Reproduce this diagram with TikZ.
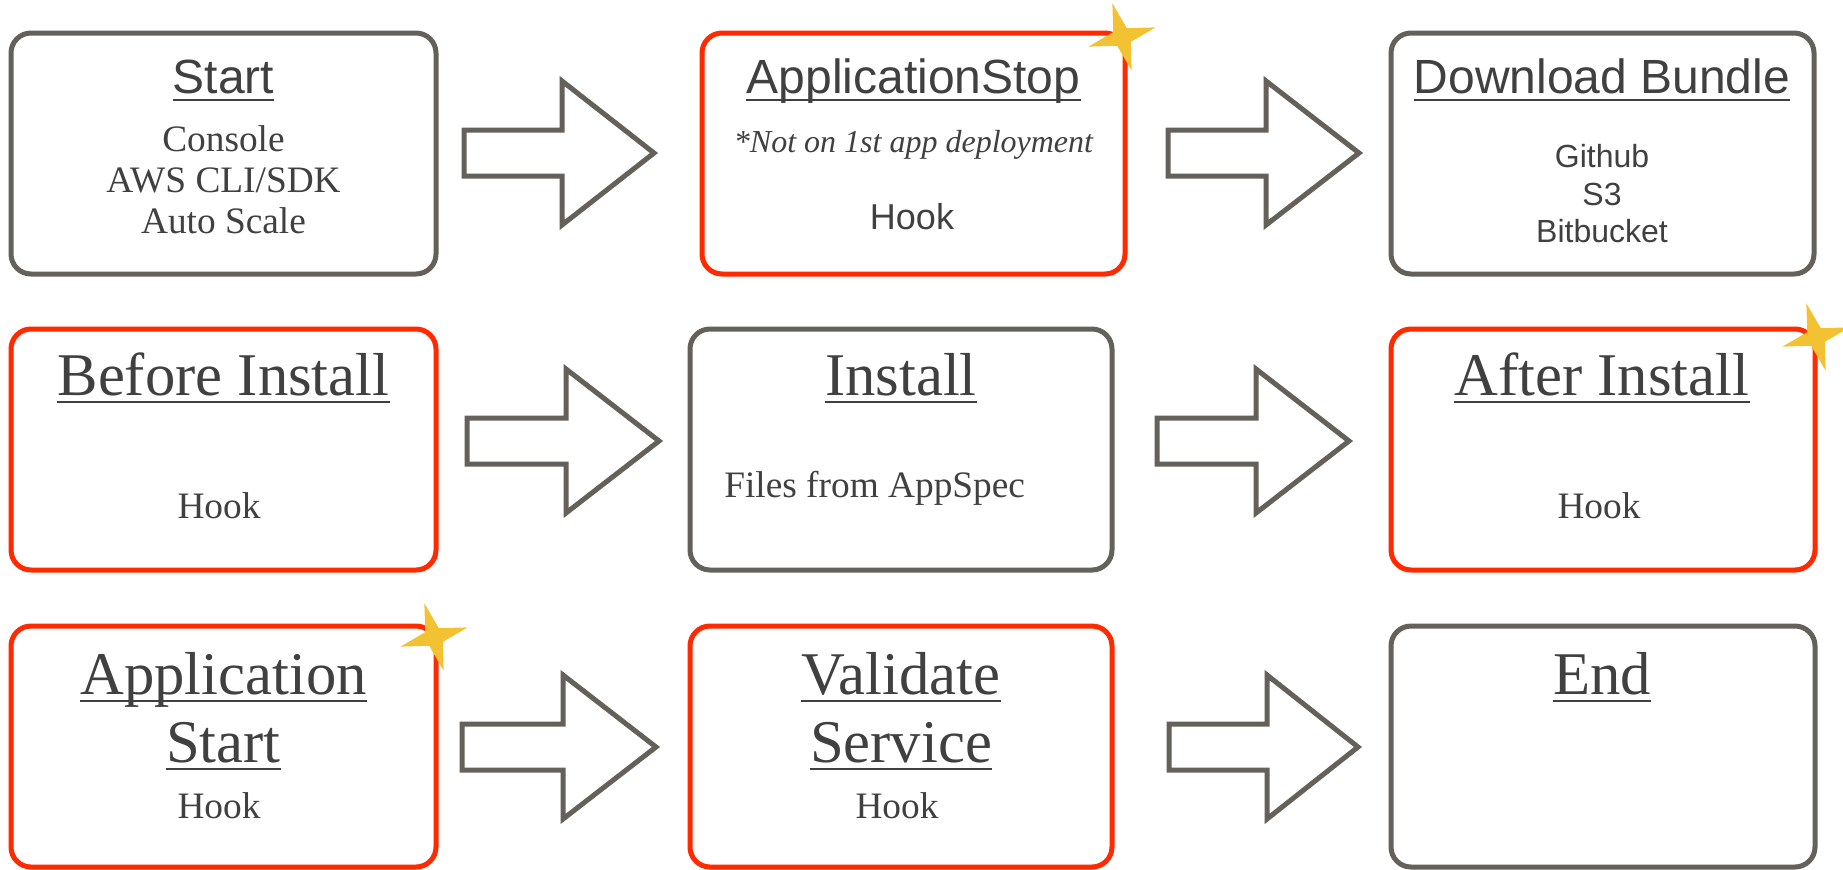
\documentclass[tikz,border=0pt]{standalone}
\usepackage{fontspec}
\setmainfont{Liberation Serif}
\newfontfamily\arialf{Liberation Sans}
\usetikzlibrary{fit}
\definecolor{boxgray}{RGB}{100,96,90}
\definecolor{boxred}{RGB}{255,42,0}
\definecolor{txt}{RGB}{64,64,64}
\definecolor{starc}{RGB}{242,194,51}
\tikzset{
  graybox/.style={draw=boxgray, line width=3.75pt, rounded corners=15pt, inner sep=0pt},
  redbox/.style={graybox, draw=boxred},
  blockarrow/.style={draw=boxgray, line width=3.75pt, fill=white, line join=miter},
  ultext/.style={draw=txt, line width=2.2pt},
  lbl/.style={text=txt, inner sep=0pt, anchor=base},
  sanshead/.style={lbl, font=\arialf\fontsize{36}{40}\selectfont},
  sansbody/.style={lbl, font=\arialf\fontsize{24}{28}\selectfont},
  sanshook/.style={lbl, font=\arialf\fontsize{27}{30}\selectfont},
  serifhead/.style={lbl, font=\fontsize{45.5}{50}\selectfont},
  serifbody/.style={lbl, font=\fontsize{28}{31}\selectfont},
  italnote/.style={lbl, font=\itshape\fontsize{24}{28}\selectfont},
  starshape/.style={fill=starc}
}
\newcommand\ulnode[1]{\draw[ultext] ([yshift=-5.25pt]#1.base west) -- ([yshift=-5.25pt]#1.base east);}
\newcommand\blockarr[4]{%
  \draw[blockarrow] (#1,#4-23) -- (#2,#4-23) -- (#2,#4-72) -- (#3,#4) -- (#2,#4+72) -- (#2,#4+23) -- (#1,#4+23) -- cycle;}
\newcommand\starat[2]{%
  \fill[starshape, shift={(#1,#2)}] (-106:35) -- (-61:10) -- (-16:35) -- (29:10) -- (74:35) -- (119:10) -- (164:35) -- (-151:10) -- cycle;}
\begin{document}
\begin{tikzpicture}[x=0.75pt, y=-0.75pt]
\useasboundingbox (0,0) rectangle (1843,869);
\fill[white] (0,0) rectangle (1843,869);

% boxes
\node[graybox, fit={(11,33) (436,274)}] (bStart) {};
\node[redbox, fit={(702,33) (1125,274)}] (bStop) {};
\node[graybox, fit={(1391,33) (1814,274)}] (bDown) {};
\node[redbox, fit={(11,329) (436,570)}] (bBefore) {};
\node[graybox, fit={(690,329) (1112,570)}] (bInstall) {};
\node[redbox, fit={(1391,329) (1815,570)}] (bAfter) {};
\node[redbox, fit={(11,626) (436,867)}] (bAppStart) {};
\node[redbox, fit={(690,626) (1112,867)}] (bValidate) {};
\node[graybox, fit={(1391,626) (1815,867)}] (bEnd) {};

% arrows
\blockarr{464}{562}{654}{153}
\blockarr{1168}{1266}{1359}{153}
\blockarr{467}{566}{659}{441}
\blockarr{1157}{1256}{1349}{441}
\blockarr{462}{563}{656}{747}
\blockarr{1169}{1267}{1358}{747}

% row 1
\node[sanshead] (tStart) at (223.5,93) {Start}; \ulnode{tStart}
\node[serifbody] (tConsole) at (223.5,151) {Console};
\node[serifbody] (tCli) at (223.5,192) {AWS CLI/SDK};
\node[serifbody] (tAuto) at (223.5,233) {Auto Scale};

\node[sanshead] (tStop) at (913.5,93) {ApplicationStop}; \ulnode{tStop}
\node[italnote] (tNote) at (913.5,152) {*Not on 1st app deployment};
\node[sanshook] (tStopHook) at (912,229) {Hook};

\node[sanshead] (tDown) at (1602,93) {Download Bundle}; \ulnode{tDown}
\node[sansbody] (tGit) at (1602,167) {Github};
\node[sansbody] (tS3) at (1602,205) {S3};
\node[sansbody] (tBit) at (1602,242) {Bitbucket};

% row 2
\node[serifhead] (tBefore) at (223.5,395) {Before Install}; \ulnode{tBefore}
\node[serifbody] (tBeforeHook) at (219,518) {Hook};

\node[serifhead] (tInstall) at (901,395) {Install}; \ulnode{tInstall}
\node[serifbody, anchor=base west] (tFiles) at (724,497) {Files from AppSpec};

\node[serifhead] (tAfter) at (1602,395) {After Install}; \ulnode{tAfter}
\node[serifbody] (tAfterHook) at (1599,518) {Hook};

% row 3
\node[serifhead] (tApp) at (223.5,694) {Application}; \ulnode{tApp}
\node[serifhead] (tAppStart) at (223.5,762) {Start}; \ulnode{tAppStart}
\node[serifbody] (tAppHook) at (219,818) {Hook};

\node[serifhead] (tVal) at (901,694) {Validate}; \ulnode{tVal}
\node[serifhead] (tServ) at (901,762) {Service}; \ulnode{tServ}
\node[serifbody] (tValHook) at (897,818) {Hook};

\node[serifhead] (tEnd) at (1602,694) {End}; \ulnode{tEnd}

% stars
\starat{1122}{37}
\starat{1816}{337}
\starat{434}{637}
\end{tikzpicture}
\end{document}
